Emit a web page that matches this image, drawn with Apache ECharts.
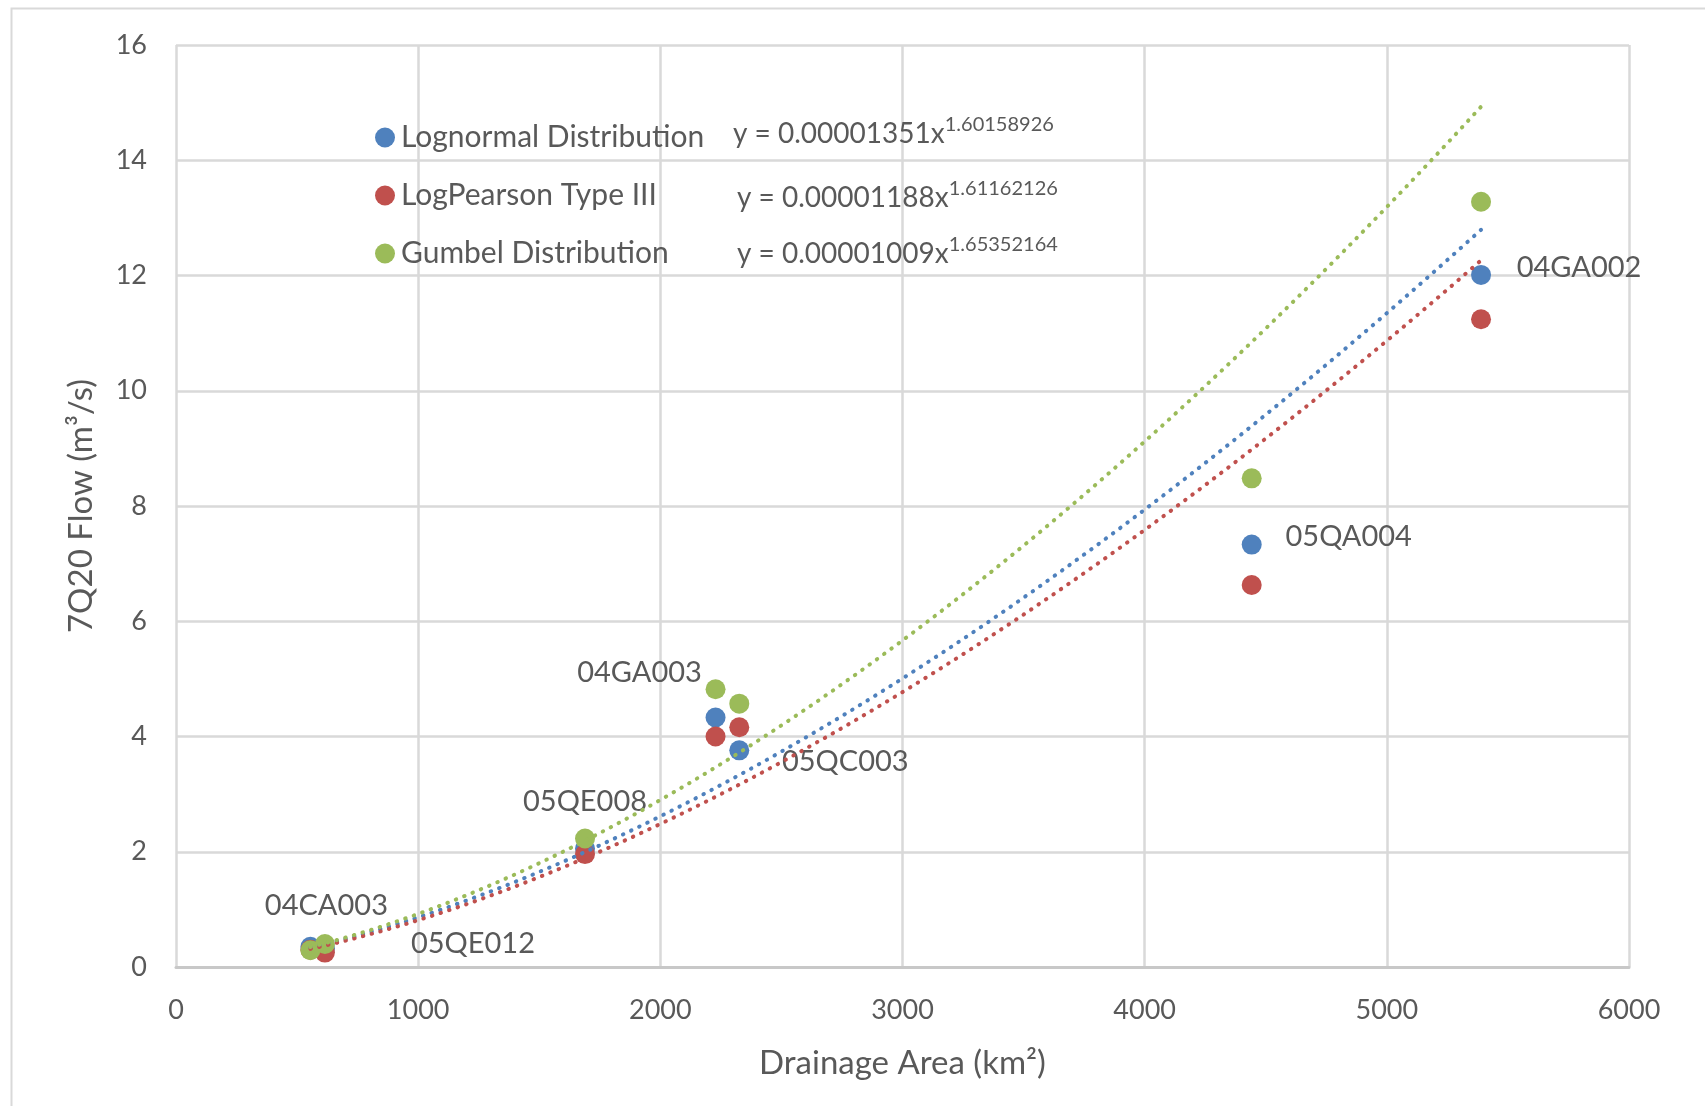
<!DOCTYPE html>
<html>
<head>
<meta charset="utf-8">
<script src="https://cdn.jsdelivr.net/npm/echarts@6/dist/echarts.min.js"></script>
<style>
html,body{margin:0;padding:0;background:#fff;}
#c{width:1705px;height:1106px;}
</style>
</head>
<body>
<div id="c"></div>
<script>
// ---- data ----
const stations = ['04CA003', '05QE012', '05QE008', '04GA003', '05QC003', '05QA004', '04GA002'];
const drainageArea = [555, 615, 1689, 2228, 2326, 4442, 5389];
const lognormal = [0.35, 0.32, 2.05, 4.33, 3.76, 7.33, 12.01];
const logPearson = [0.30, 0.25, 1.96, 4.00, 4.16, 6.63, 11.24];
const gumbel = [0.29, 0.40, 2.23, 4.82, 4.57, 8.48, 13.28];
const seriesNames = ['Lognormal Distribution', 'LogPearson Type III', 'Gumbel Distribution'];
// power trendline coefficients shown on the chart: y = a * x^b
const trendA = [0.00001351, 0.00001188, 0.00001009];
const trendB = [1.60158926, 1.61162126, 1.65352164];
const trendAText = ['0.00001351', '0.00001188', '0.00001009'];
const trendBText = ['1.60158926', '1.61162126', '1.65352164'];
const xTicks = [0, 1000, 2000, 3000, 4000, 5000, 6000];
const yTicks = [0, 2, 4, 6, 8, 10, 12, 14, 16];

// ---- styles ----
const colors = ['#4F81BD', '#C0504D', '#9BBB59'];
const FONT = 'Lato';
const TXT = '#595959';
const labelOffsets = [[16, -41], [148, -5], [0, -47], [-76, -45], [106, 11], [97, -8], [98, -7]];

const values = [lognormal, logPearson, gumbel];

function pts(v) { return drainageArea.map((x, i) => [x, v[i]]); }

function trend(k) {
  const xmin = Math.min(...drainageArea), xmax = Math.max(...drainageArea);
  const out = [];
  const n = 120;
  for (let i = 0; i <= n; i++) {
    const x = xmin + (xmax - xmin) * i / n;
    out.push([x, trendA[k] * Math.pow(x, trendB[k])]);
  }
  return out;
}

const series = [];
values.forEach((v, k) => {
  const s = {
    name: seriesNames[k],
    type: 'scatter',
    symbol: 'circle',
    symbolSize: 20,
    itemStyle: { color: colors[k], opacity: 1 },
    z: 2 + k,
    data: pts(v),
    emphasis: { disabled: true },
    animation: false
  };
  if (k === 0) {
    s.label = {
      show: true,
      position: 'inside',
      formatter: p => stations[p.dataIndex],
      color: TXT,
      fontFamily: FONT,
      fontSize: 29
    };
    s.labelLayout = p => ({ dx: labelOffsets[p.dataIndex][0], dy: labelOffsets[p.dataIndex][1], hideOverlap: false });
  }
  series.push(s);
});
values.forEach((v, k) => {
  series.push({
    name: 'trend' + k,
    type: 'line',
    showSymbol: false,
    symbol: 'none',
    smooth: false,
    z: 10,
    lineStyle: { color: colors[k], width: 4, type: [0.5, 8.5], cap: 'round' },
    data: trend(k),
    emphasis: { disabled: true },
    animation: false
  });
});

const eqY = [134, 198, 254];
const eqX = [733, 737, 737];
const graphics = [{
  type: 'rect', left: 9, top: 6, silent: true,
  shape: { width: 1800, height: 1200 },
  style: { fill: 'none', stroke: '#d9d9d9', lineWidth: 2 }
}];
trendAText.forEach((a, k) => {
  graphics.push({
    type: 'text', x: eqX[k], y: eqY[k], z: 20,
    style: {
      text: '{b|y = ' + a + 'x}{s|' + trendBText[k] + '}',
      verticalAlign: 'middle',
      rich: {
        b: { fontFamily: FONT, fontSize: 28, fill: TXT, color: TXT },
        s: { fontFamily: FONT, fontSize: 20, fill: TXT, color: TXT, padding: [0, 0, 18, 0] }
      }
    }
  });
});

const chart = echarts.init(document.getElementById('c'), null, { renderer: 'canvas' });
chart.setOption({
  animation: false,
  backgroundColor: '#fff',
  textStyle: { fontFamily: FONT },
  grid: { left: 176, right: 76, top: 45, bottom: 139, containLabel: false },
  legend: {
    data: seriesNames.map(n => ({ name: n, icon: 'circle' })),
    orient: 'vertical',
    left: 370, top: 117,
    itemWidth: 20, itemHeight: 20, itemGap: 27,
    textStyle: { fontFamily: FONT, fontSize: 30, color: TXT, lineHeight: 31, padding: [0, 0, 0, 1] },
    selectedMode: false
  },
  xAxis: {
    type: 'value', min: xTicks[0], max: xTicks[xTicks.length - 1], interval: 1000,
    name: 'Drainage Area (km²)', nameLocation: 'middle', nameGap: 80,
    nameTextStyle: { fontFamily: FONT, fontSize: 33, color: TXT },
    axisLine: { show: true, lineStyle: { color: '#c8c8c8', width: 3 } },
    axisTick: { show: false },
    axisLabel: { color: TXT, fontFamily: FONT, fontSize: 27, margin: 30, formatter: v => String(v) },
    splitLine: { show: true, lineStyle: { color: '#d9d9d9', width: 2.5 } }
  },
  yAxis: {
    type: 'value', min: yTicks[0], max: yTicks[yTicks.length - 1], interval: 2,
    name: '7Q20 Flow (m³/s)', nameLocation: 'middle', nameGap: 78, nameRotate: 90,
    nameTextStyle: { fontFamily: FONT, fontSize: 33, color: TXT },
    axisLine: { show: false },
    axisTick: { show: false },
    axisLabel: { color: TXT, fontFamily: FONT, fontSize: 27, margin: 29, formatter: v => String(v) },
    splitLine: { show: true, lineStyle: { color: '#d9d9d9', width: 2.5 } }
  },
  graphic: graphics,
  series: series
});
</script>
</body>
</html>
